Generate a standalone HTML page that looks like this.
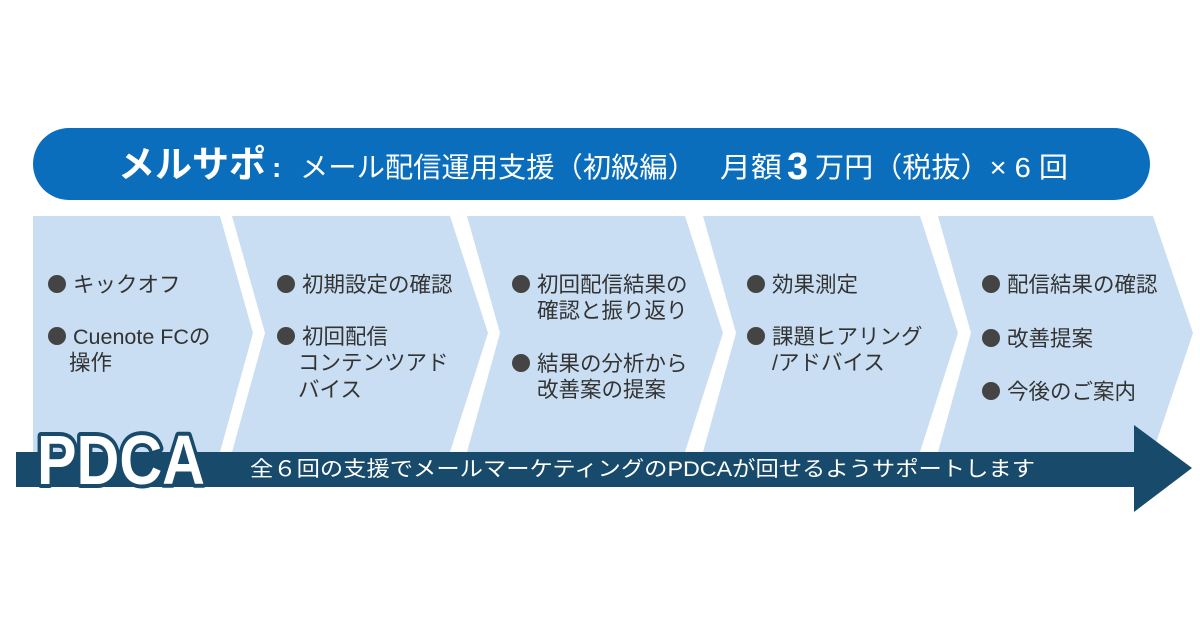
<!DOCTYPE html>
<html><head><meta charset="utf-8"><style>
html,body{margin:0;padding:0;background:#fff;}
svg{display:block;}
text{font-family:"Liberation Sans","Noto Sans CJK JP",sans-serif;}
</style></head><body>
<svg width="1200" height="630" viewBox="0 0 1200 630">
<rect x="33" y="128" width="1117" height="72" rx="36" fill="#0b6ebd"/>
<text x="118" y="177" fill="#fff" font-size="37" font-weight="bold" textLength="148" lengthAdjust="spacingAndGlyphs">メルサポ</text>
<text x="272" y="177" fill="#fff" font-size="28" font-weight="bold">:</text>
<text x="300" y="177" fill="#fff" font-size="28" textLength="396" lengthAdjust="spacingAndGlyphs">メール配信運用支援（初級編）</text>
<text x="720" y="177" fill="#fff" font-size="28" textLength="62" lengthAdjust="spacingAndGlyphs">月額</text>
<text x="787" y="179" fill="#fff" font-size="38" font-weight="bold">3</text>
<text x="815" y="177" fill="#fff" font-size="28" textLength="253" lengthAdjust="spacingAndGlyphs">万円（税抜）× 6 回</text>
<g fill="#c9def2">
<polygon points="33,216 220,216 253,333 220,452 33,452"/>
<polygon points="232,216 450,216 488,333 450,452 232,452 265,333"/>
<polygon points="467,216 685,216 723,333 685,452 467,452 500,333"/>
<polygon points="703,216 920,216 958,333 920,452 703,452 736,333"/>
<polygon points="938,216 1153,216 1193,333 1153,452 938,452 971,333"/>
</g>
<g fill="#444">
<circle cx="57" cy="284" r="9"/><circle cx="57" cy="336" r="9"/>
<circle cx="286" cy="284" r="9"/><circle cx="286" cy="336" r="9"/>
<circle cx="521" cy="284" r="9"/><circle cx="521" cy="363" r="9"/>
<circle cx="756" cy="284" r="9"/><circle cx="756" cy="336" r="9"/>
<circle cx="991" cy="284" r="9"/><circle cx="991" cy="338" r="9"/><circle cx="991" cy="391" r="9"/>
</g>
<g fill="#333" font-size="21.5">
<text x="73" y="292">キックオフ</text>
<text x="73" y="344">Cuenote FCの</text>
<text x="69" y="370">操作</text>
<text x="302" y="292">初期設定の確認</text>
<text x="302" y="344">初回配信</text>
<text x="298" y="370">コンテンツアド</text>
<text x="298" y="397">バイス</text>
<text x="537" y="292">初回配信結果の</text>
<text x="537" y="318">確認と振り返り</text>
<text x="537" y="371">結果の分析から</text>
<text x="537" y="397">改善案の提案</text>
<text x="772" y="292">効果測定</text>
<text x="772" y="344">課題ヒアリング</text>
<text x="772" y="370">/アドバイス</text>
<text x="1007" y="292">配信結果の確認</text>
<text x="1007" y="346">改善提案</text>
<text x="1007" y="399">今後のご案内</text>
</g>
<polygon points="16,452 1134,452 1134,425 1192,468 1134,512 1134,487 16,487" fill="#184a6b"/>
<text x="37" y="484" font-size="70" font-weight="bold" fill="#184a6b" stroke="#184a6b" stroke-width="8" stroke-linejoin="round" textLength="168" lengthAdjust="spacingAndGlyphs">PDCA</text>
<text x="37" y="484" font-size="70" font-weight="bold" fill="#fff" textLength="168" lengthAdjust="spacingAndGlyphs">PDCA</text>
<text x="250" y="476" font-size="21" fill="#fff" textLength="785" lengthAdjust="spacingAndGlyphs">全６回の支援でメールマーケティングのPDCAが回せるようサポートします</text>
</svg>
</body></html>
